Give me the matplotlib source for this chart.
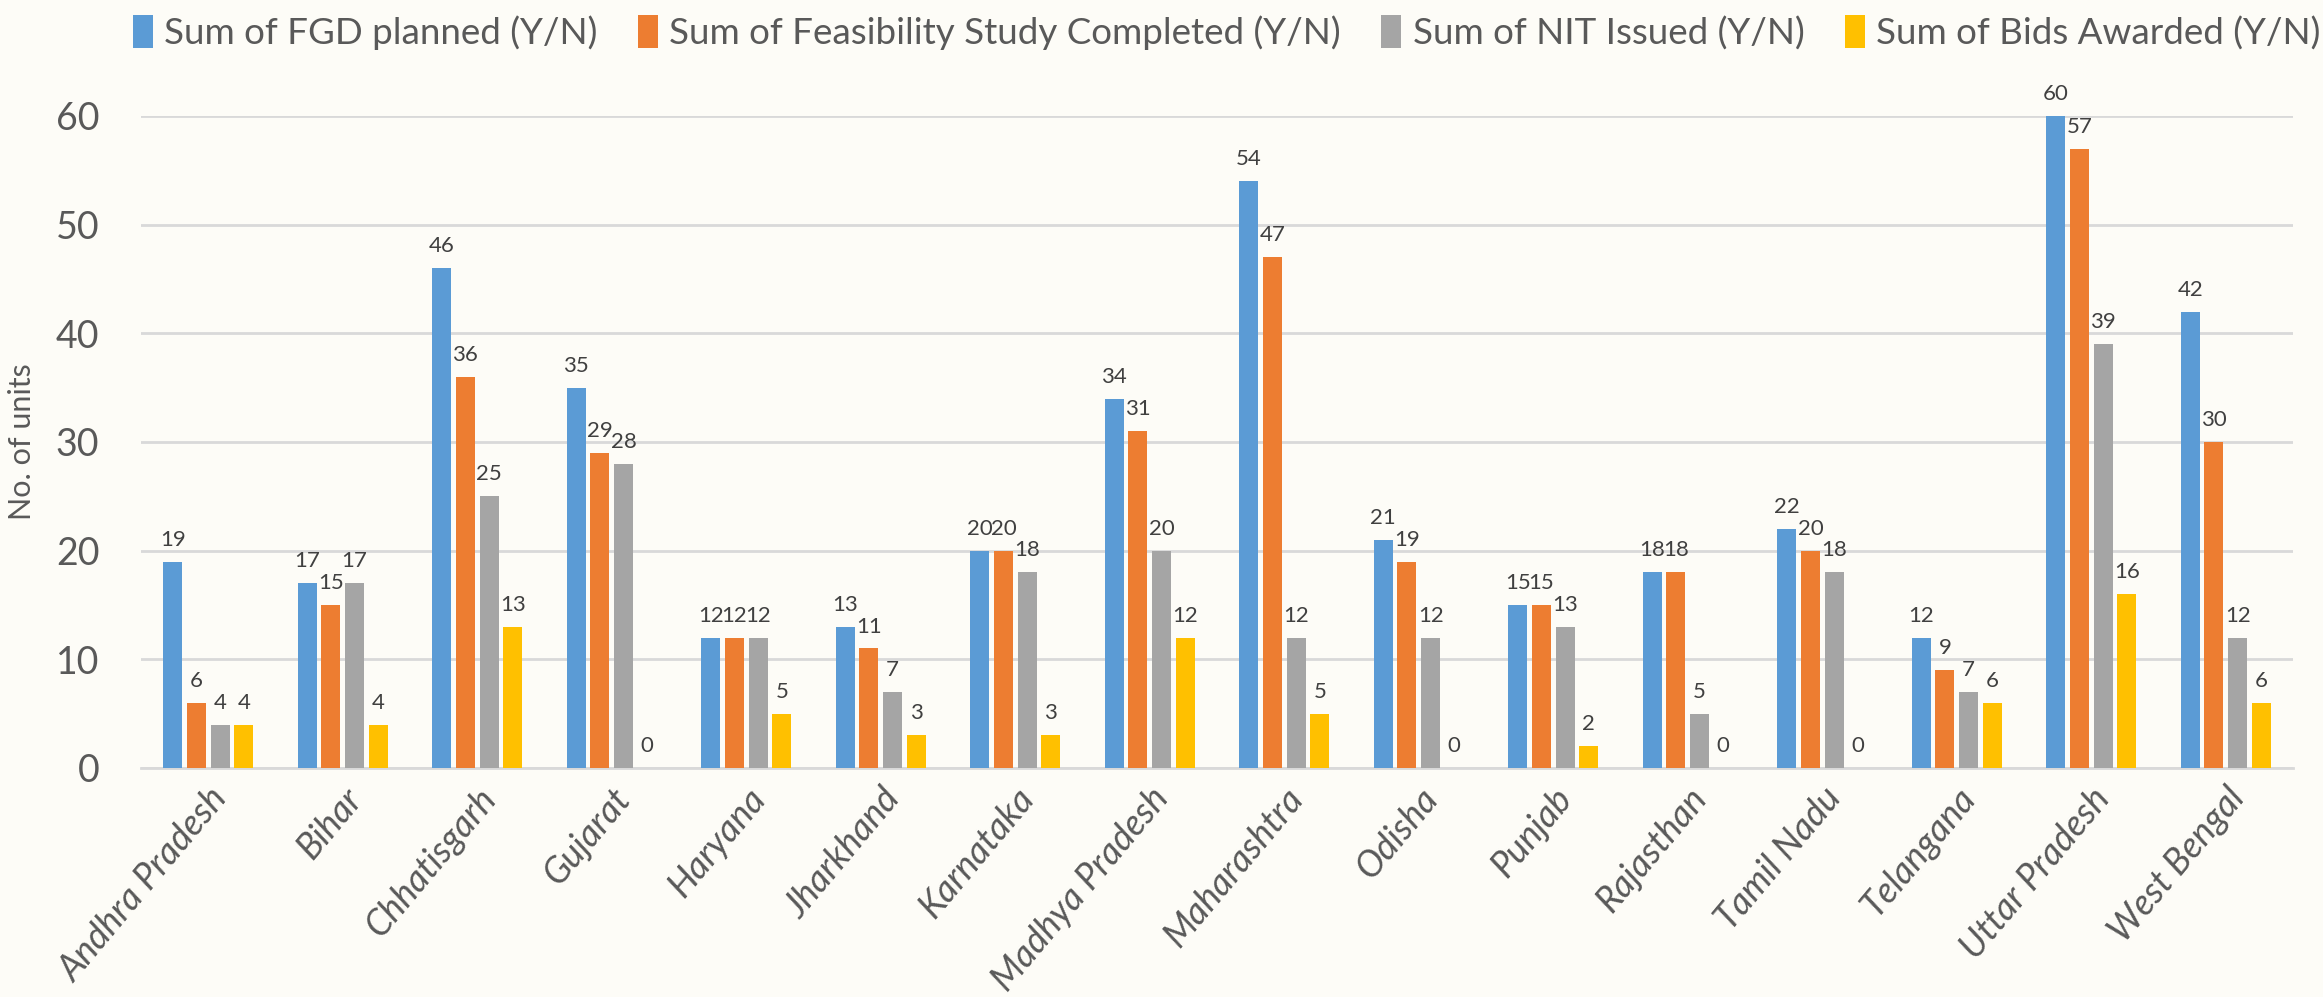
import numpy as np
import matplotlib.pyplot as plt
from matplotlib.patches import Patch

states = ['Andhra Pradesh', 'Bihar', 'Chhatisgarh', 'Gujarat', 'Haryana', 'Jharkhand',
          'Karnataka', 'Madhya Pradesh', 'Maharashtra', 'Odisha', 'Punjab', 'Rajasthan',
          'Tamil Nadu', 'Telangana', 'Uttar Pradesh', 'West Bengal']

fgd_planned = [19, 17, 46, 35, 12, 13, 20, 34, 54, 21, 15, 18, 22, 12, 60, 42]
feasibility_done = [6, 15, 36, 29, 12, 11, 20, 31, 47, 19, 15, 18, 20, 9, 57, 30]
nit_issued = [4, 17, 25, 28, 12, 7, 18, 20, 12, 12, 13, 5, 18, 7, 39, 12]
bids_awarded = [4, 4, 13, 0, 5, 3, 3, 12, 5, 0, 2, 0, 0, 6, 16, 6]

series_names = ['Sum of FGD planned (Y/N)', 'Sum of Feasibility Study Completed (Y/N)',
                'Sum of NIT Issued (Y/N)', 'Sum of Bids Awarded (Y/N)']
colors = ['#5B9BD5', '#ED7D31', '#A5A5A5', '#FFC000']

plt.rcParams['font.family'] = ['Lato', 'DejaVu Sans']
bg = '#FDFCF7'
text_col = '#595959'

fig = plt.figure(figsize=(23.23, 9.97), dpi=100, facecolor=bg)
ax = fig.add_axes([141 / 2323, 1 - 768 / 997, (2293 - 141) / 2323, (768 - 116) / 997])
ax.set_facecolor(bg)

x = np.arange(len(states))
pitch = 0.176
width = 0.14
all_series = [fgd_planned, feasibility_done, nit_issued, bids_awarded]

for i, vals in enumerate(all_series):
    pos = x + (i - 1.5) * pitch
    ax.bar(pos, vals, width=width, color=colors[i], zorder=3)
    for xp, v in zip(pos, vals):
        ax.text(xp, v + 1.1, str(v), ha='center', va='bottom', fontsize=16,
                color='#404040', clip_on=False, zorder=4)

ax.set_xlim(-0.5, len(states) - 0.5)
ax.set_ylim(0, 60)
ax.set_yticks(range(0, 61, 10))
ax.yaxis.grid(True, color='#D9D9D9', linewidth=2, zorder=0)
ax.set_axisbelow(True)
for s in ['top', 'right', 'left']:
    ax.spines[s].set_visible(False)
ax.spines['bottom'].set_color('#D9D9D9')
ax.spines['bottom'].set_linewidth(2)
ax.tick_params(axis='y', length=0, pad=30, labelsize=27, labelcolor=text_col)
ax.tick_params(axis='x', length=0, pad=10)

ax.set_xticks(x)
ax.set_xticklabels(states, rotation=50, ha='right', rotation_mode='anchor',
                   fontsize=26, style='italic', color=text_col)

ax.set_ylabel('No. of units', fontsize=22, color=text_col, labelpad=14)

handles = [Patch(facecolor=c, edgecolor='none') for c in colors]
fig.legend(handles, series_names, loc='upper center', bbox_to_anchor=(0.528, 1.018),
           ncol=4, frameon=False, fontsize=26.5, labelcolor=text_col,
           handlelength=0.55, handleheight=1.0, handletextpad=0.3, columnspacing=1.1)

fig.savefig('out.png', dpi=100, facecolor=bg)
